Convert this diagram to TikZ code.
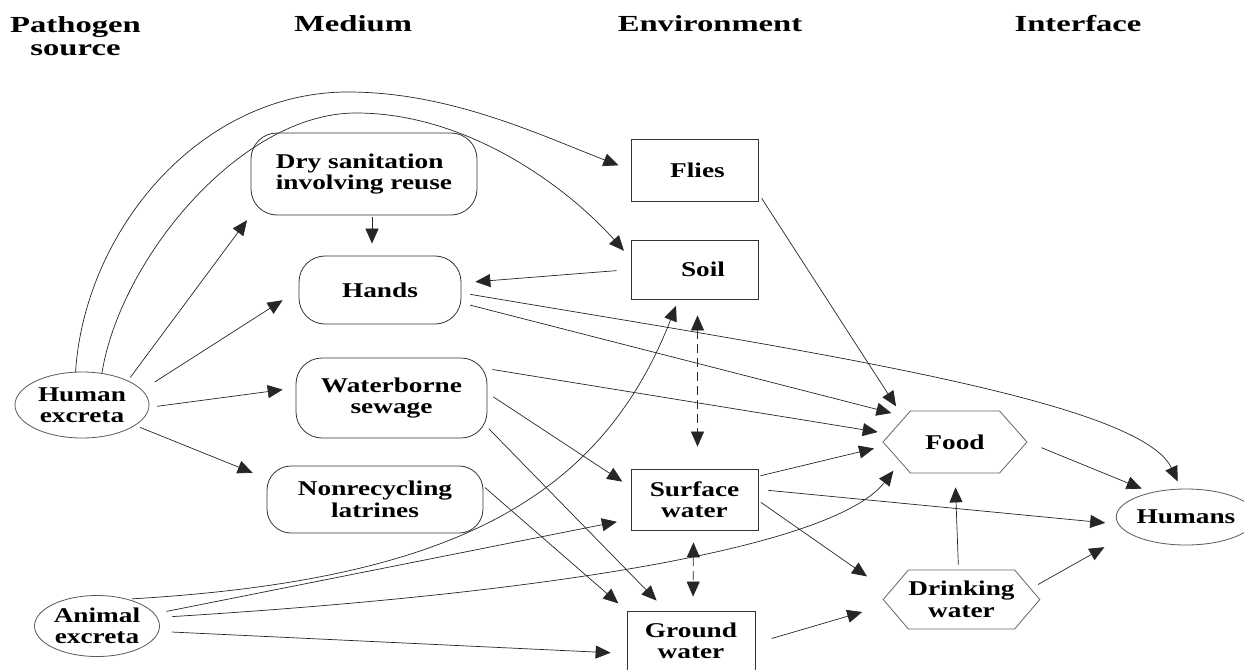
\documentclass[tikz,border=0pt]{standalone}
\usepackage{fontspec}
\setmainfont{Liberation Serif}[FakeStretch=1.3]
\newfontfamily\headfont{Liberation Serif}[FakeStretch=1.42]
\usetikzlibrary{shapes.geometric,shapes.symbols,arrows.meta}
\tikzset{
  lbl/.style={font=\bfseries\fontsize{21}{21.5}\selectfont, align=center, inner sep=0pt},
  head/.style={font=\headfont\bfseries\fontsize{23}{23}\selectfont, align=center, inner sep=0pt},
  ell/.style={ellipse, draw=black!65, line width=0.8pt, lbl},
  rbox/.style={rectangle, rounded corners=26pt, draw=black!80, line width=0.8pt, lbl},
  sbox/.style={rectangle, draw=black!80, line width=0.8pt, lbl},
  hexa/.style={signal, signal to=east and west, draw=black!60, line width=0.8pt, lbl},
  tip/.style={-{Triangle[length=15pt,width=13pt]}},
  arr/.style={tip, line width=0.7pt, draw=black!85},
  darr/.style={{Triangle[length=15pt,width=13pt]}-{Triangle[length=15pt,width=13pt]}, line width=0.7pt, draw=black!85, dash pattern=on 9pt off 5pt}
}
\begin{document}
\begin{tikzpicture}[x=1pt,y=-1pt]
\fill[white] (0,0) rectangle (1244,669);
\useasboundingbox (0,0) rectangle (1244,669);

% headings
\node[head] (h1) at (75.5,36) {Pathogen\\source};
\node[head, anchor=base] (h2) at (353,32) {Medium};
\node[head, anchor=base] (h3) at (710,32) {Environment};
\node[head, anchor=base] (h4) at (1078,32) {Interface};

% nodes
\node[ell, minimum width=134pt, minimum height=66pt] (he) at (82,405) {Human\\excreta};
\node[ell, minimum width=125pt, minimum height=61pt] (ae) at (97,626) {Animal\\excreta};
\node[rbox, minimum width=226pt, minimum height=82pt, align=left] (dry) at (364,174) {Dry sanitation\\involving reuse};
\node[rbox, minimum width=162pt, minimum height=68pt] (hands) at (380,290) {Hands};
\node[rbox, minimum width=191pt, minimum height=80pt] (ws) at (391.5,398) {Waterborne\\sewage};
\node[rbox, minimum width=216pt, minimum height=67pt, rounded corners=24pt] (nr) at (375,499.5) {Nonrecycling\\latrines};
\node[sbox, minimum width=127pt, minimum height=62pt] (fl) at (694.5,170) {\hspace*{6pt}Flies};
\node[sbox, minimum width=127pt, minimum height=59pt] (so) at (694.5,269.5) {\hspace*{17pt}Soil};
\node[sbox, minimum width=127pt, minimum height=61pt] (sw) at (694.5,499.5) {Surface\\water};
\node[sbox, minimum width=128pt, minimum height=60pt] (gw) at (691,641) {Ground\\water};
\node[hexa, minimum width=144pt, minimum height=62pt, signal pointer angle=97] (food) at (955,442) {Food};
\node[hexa, minimum width=143pt, minimum height=59pt, signal pointer angle=99] (dw) at (961.5,599.5) {Drinking\\water};
\node[ell, minimum width=116pt, minimum height=56pt] (hu) at (1186,517) {Humans};

% connectors from human excreta
\draw[arr, shorten >=13pt] (he.101) .. controls (85,230) and (200,92) .. (348,92) .. controls (450,92) and (540,135) .. (fl.west);
\draw[arr, shorten >=10pt] (he.58) .. controls (120,260) and (240,113) .. (356,113) .. controls (470,113) and (570,190) .. (so.170);
\draw[arr, shorten <=4pt, shorten >=6pt] (he.28) -- (dry.south west);
\draw[arr, shorten <=15pt, shorten >=19pt] (he.14) -- (hands.west);
\draw[arr, shorten <=8pt, shorten >=13pt] (he.-2) -- (ws.174);
\draw[arr, shorten <=5pt, shorten >=15pt] (he.-21) -- (nr.169);

% medium connectors
\draw[arr, shorten <=2pt, shorten >=12pt] ([xshift=8pt]dry.south) -- ([xshift=-8pt]hands.north);
\draw[arr, shorten <=14pt, shorten >=14pt] (so.west) -- (hands.5);
\draw[arr, shorten <=9pt, shorten >=14pt] (hands.-9) -- (food.153);
\draw[arr, shorten <=9pt, shorten >=8pt] (hands.-2) .. controls (800,350) and (1140,400) .. (hu.100);
\draw[arr, shorten <=5pt, shorten >=12pt] (ws.17) -- (food.173);
\draw[arr, shorten <=7pt, shorten >=10pt] (ws.3) -- (sw.169);
\draw[arr, shorten <=2pt, shorten >=14pt] (ws.-17) -- (gw.129);
\draw[arr, shorten <=2pt, shorten >=11pt] (nr.7) -- (gw.north west);

% environment connectors
\draw[arr, shorten <=6pt, shorten >=14pt] (fl.-20) -- (food.155);
\draw[darr, shorten <=16pt, shorten >=22pt] ([xshift=3pt]so.south) -- ([xshift=3pt]sw.north);
\draw[darr, shorten <=12pt, shorten >=14pt] ([xshift=-1pt]sw.south) -- ([xshift=2pt]gw.north);
\draw[arr, shorten <=2pt, shorten >=12pt] (sw.20) -- (food.183);
\draw[arr, shorten <=10pt, shorten >=13pt] (sw.9) -- (hu.186);
\draw[arr, shorten <=3pt, shorten >=27pt] (sw.-1) -- (dw.174);
\draw[arr, shorten <=17pt, shorten >=26pt] (gw.-2) -- (dw.184);

% interface connectors
\draw[arr, shorten <=5pt, shorten >=14pt] ([xshift=-3pt]dw.north) -- (food.south);
\draw[arr, shorten <=8pt, shorten >=28pt] (dw.9) -- (hu.196);
\draw[arr, shorten <=15pt, shorten >=10pt] (food.east) -- (hu.145);

% animal excreta
\draw[arr, shorten <=4pt, shorten >=7pt] (ae.41) .. controls (450,580) and (600,500) .. (so.-118);
\draw[arr, shorten <=12pt, shorten >=14pt] (ae.12) -- (sw.197);
\draw[arr, shorten <=15pt, shorten >=11pt] (ae.8) .. controls (600,590) and (840,540) .. (food.200);
\draw[arr, shorten <=13pt, shorten >=16pt] (ae.-5) -- (gw.191);
\end{tikzpicture}
\end{document}
